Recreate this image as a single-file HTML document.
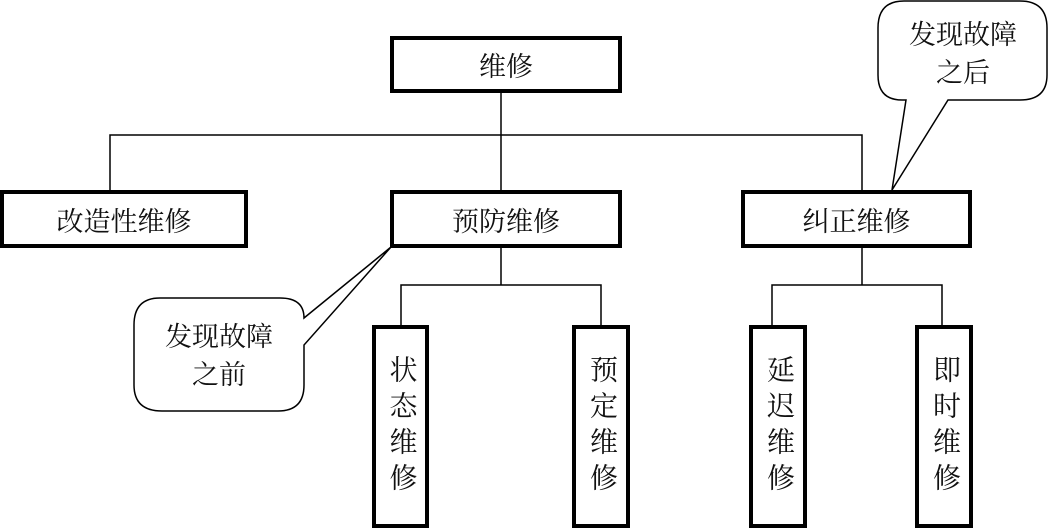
<!DOCTYPE html>
<html><head><meta charset="utf-8"><style>
html,body{margin:0;padding:0;background:#fff;}
body{width:1049px;height:528px;position:relative;overflow:hidden;font-family:"Liberation Serif","Noto Serif CJK SC",serif;}
.b{position:absolute;box-sizing:border-box;border:4px solid #000;background:#fff;display:flex;align-items:center;justify-content:center;font-size:27px;color:#111;}
.v{writing-mode:vertical-rl;letter-spacing:8px;font-size:28px;}
.t{position:absolute;font-size:27px;text-align:center;line-height:38px;color:#111;}
</style></head><body>
<svg width="1049" height="528" style="position:absolute;left:0;top:0" fill="none" stroke="#000" stroke-width="1.5">
<line x1="501" y1="92" x2="501" y2="192"/>
<polyline points="110,192 110,135 862,135 862,192"/>
<line x1="501" y1="246" x2="501" y2="285"/>
<polyline points="401,327 401,285 601,285 601,327"/>
<line x1="862" y1="246" x2="862" y2="285"/>
<polyline points="772,327 772,285 942,285 942,327"/>
<path d="M160,298 H280 Q304,298 304,318 L391,247 L304,345 V385 Q304,411 278,411 H162 Q134,411 134,385 V325 Q134,298 160,298 Z" fill="#fff"/>
<path d="M904,1 H1020 Q1047,1 1047,28 V75 Q1047,100 1020,100 H948 L892,190 L906,100 H902 Q878,100 878,75 V28 Q878,1 904,1 Z" fill="#fff"/>
</svg>
<div class="b" style="left:390px;top:36px;width:232px;height:57px">维修</div>
<div class="b" style="left:0;top:190px;width:248px;height:58px">改造性维修</div>
<div class="b" style="left:390px;top:190px;width:232px;height:58px">预防维修</div>
<div class="b" style="left:741px;top:190px;width:231px;height:58px">纠正维修</div>
<div class="b v" style="left:372px;top:325px;width:57px;height:203px">状态维修</div>
<div class="b v" style="left:572px;top:325px;width:58px;height:203px">预定维修</div>
<div class="b v" style="left:749px;top:325px;width:58px;height:203px">延迟维修</div>
<div class="b v" style="left:915px;top:325px;width:58px;height:203px">即时维修</div>
<div class="t" style="left:134px;top:318px;width:170px">发现故障<br>之前</div>
<div class="t" style="left:878px;top:16px;width:170px">发现故障<br>之后</div>
</body></html>
